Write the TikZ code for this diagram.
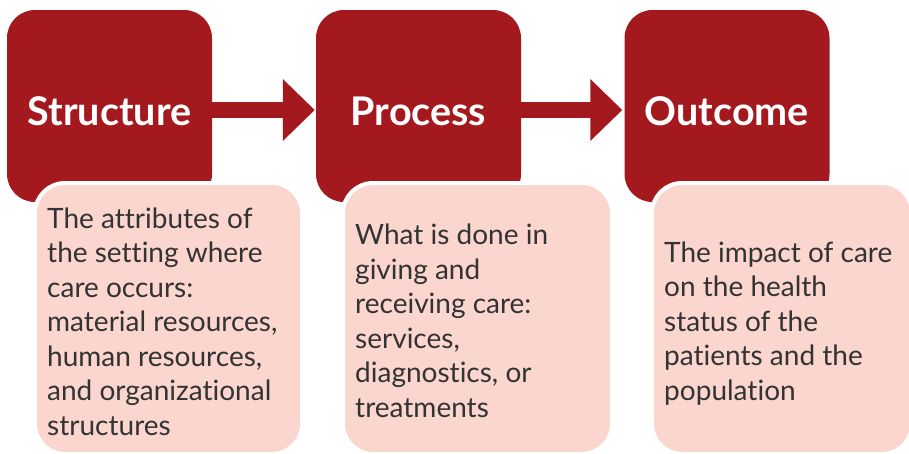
\documentclass[tikz,border=0pt]{standalone}
\usepackage{fontspec}
\setmainfont{Lato}[Ligatures=NoCommon]
\usetikzlibrary{arrows.meta}
\definecolor{cred}{RGB}{163,25,30}
\definecolor{cpink}{RGB}{250,214,206}
\definecolor{ctext}{RGB}{51,51,51}
\tikzset{
  redbox/.style={rectangle, fill=cred, rounded corners=28pt, minimum width=205pt, minimum height=192pt, inner sep=0pt},
  pinkbox/.style={rectangle, fill=cpink, draw=white, line width=4pt, rounded corners=30pt, minimum height=271pt, inner sep=0pt},
  title/.style={text=white, font=\bfseries\fontsize{39.5}{42}\selectfont, anchor=base, inner sep=0pt},
  body/.style={text=ctext, font=\fontsize{28}{34.5}\selectfont, align=left, anchor=base west, inner sep=0pt},
  flow/.style={cred, line width=16pt, -{Triangle[length=32pt, width=60pt]}}
}
\begin{document}
\begin{tikzpicture}[x=1pt, y=-1pt]
\useasboundingbox (0,0) rectangle (909,453);
% red boxes
\node[redbox] (s) at (109.5,106) {};
\node[redbox] (p) at (418.5,106) {};
\node[redbox] (o) at (727,106) {};
% arrows
\draw[flow] ([yshift=-4pt]s.east) -- ([yshift=-4pt,xshift=-1pt]p.west);
\draw[flow] ([yshift=-4pt]p.east) -- ([yshift=-4pt,xshift=-2pt]o.west);
% titles
\node[title] (ts) at (109.5,125) {Structure};
\node[title] (tp) at (418.5,125) {Process};
\node[title] (to) at (727,125) {Outcome};
% pink boxes
\node[pinkbox, minimum width=267pt] (ps) at (168.5,318.5) {};
\node[pinkbox, minimum width=269pt] (pp) at (477.5,318.5) {};
\node[pinkbox, minimum width=260pt] (po) at (782,318.5) {};
% texts (anchored at the baseline of the last line)
\node[body] (bs) at (47,435) {The attributes of\\the setting where\\care occurs:\\material resources,\\human resources,\\and organizational\\structures};
\node[body] (bp) at (355,417) {What is done in\\giving and\\receiving care:\\services,\\diagnostics, or\\treatments};
\node[body] (bo) at (664,400) {The impact of care\\on the health\\status of the\\patients and the\\population};
\end{tikzpicture}
\end{document}
